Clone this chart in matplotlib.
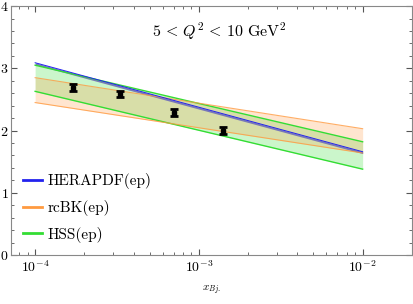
import numpy as np
import matplotlib
matplotlib.use("Agg")
import matplotlib.pyplot as plt

x_band = [1e-4, 1e-2]
hera_lo = [3.06, 1.63]
hera_hi = [3.09, 1.66]
rcbk_lo = [2.45, 1.64]
rcbk_hi = [2.85, 2.03]
hss_lo = [2.63, 1.38]
hss_hi = [3.05, 1.82]

# data points
x_data = [1.7e-4, 3.3e-4, 7.0e-4, 1.4e-3]
y_data = [2.69, 2.59, 2.29, 2.00]
y_err = [0.06, 0.05, 0.05, 0.06]

plt.rcParams['font.family'] = 'serif'
plt.rcParams['font.serif'] = ['cmr10']
plt.rcParams['mathtext.fontset'] = 'cm'
plt.rcParams['axes.formatter.use_mathtext'] = True

fig = plt.figure(figsize=(4.14, 3.04), dpi=100)
ax = fig.add_axes([0.026, 0.161, 0.969, 0.819])

blue = '#2222ee'
orange = '#ff9a40'
green = '#33dd33'

ax.fill_between(x_band, hss_lo, hss_hi, color=green, alpha=0.25, lw=0)
ax.plot(x_band, hss_lo, color=green, lw=1)
ax.plot(x_band, hss_hi, color=green, lw=1)
ax.fill_between(x_band, rcbk_lo, rcbk_hi, color=orange, alpha=0.25, lw=0)
ax.plot(x_band, rcbk_lo, color=orange, lw=0.8, alpha=0.8)
ax.plot(x_band, rcbk_hi, color=orange, lw=0.8, alpha=0.8)
ax.fill_between(x_band, hera_lo, hera_hi, color='#7878b8', lw=0)
ax.plot(x_band, hera_hi, color=blue, lw=0.7)

ax.errorbar(x_data, y_data, yerr=y_err, fmt='s', ms=3.5, color='black',
            ecolor='black', elinewidth=2, capsize=3, capthick=2)

# legend entries
ax.plot([], [], color=blue, lw=2, label='HERAPDF(ep)')
ax.plot([], [], color=orange, lw=2, label='rcBK(ep)')
ax.plot([], [], color=green, lw=2, label='HSS(ep)')
ax.legend(loc='lower left', bbox_to_anchor=(0.0, 0.0), frameon=False,
          fontsize=11, handlelength=1.25, handletextpad=0.35, labelspacing=0.7,
          borderaxespad=0.4)

ax.set_xscale('log')
ax.set_xlim(7.1e-5, 2.0e-2)
ax.set_ylim(0, 4)
ax.set_yticks([0, 1, 2, 3, 4])
ax.yaxis.set_minor_locator(matplotlib.ticker.MultipleLocator(0.2))

ax.text(0.52, 0.9, r'$5\, <\, Q^2\, <\, 10\ \mathrm{GeV}^2$', transform=ax.transAxes,
        ha='center', va='center', fontsize=11.5)
ax.set_xlabel(r'$x_{Bj.}$', fontsize=8, labelpad=6)

ax.tick_params(which='both', direction='in', top=True, right=True,
               labelsize=10, colors='#555555', labelcolor='black')
ax.tick_params(axis='y', pad=1.5)
ax.tick_params(axis='x', pad=3)
ax.tick_params(which='major', length=4)
ax.tick_params(which='minor', length=2)
for s in ax.spines.values():
    s.set_color('#888888')

fig.savefig('out.png', dpi=100)
